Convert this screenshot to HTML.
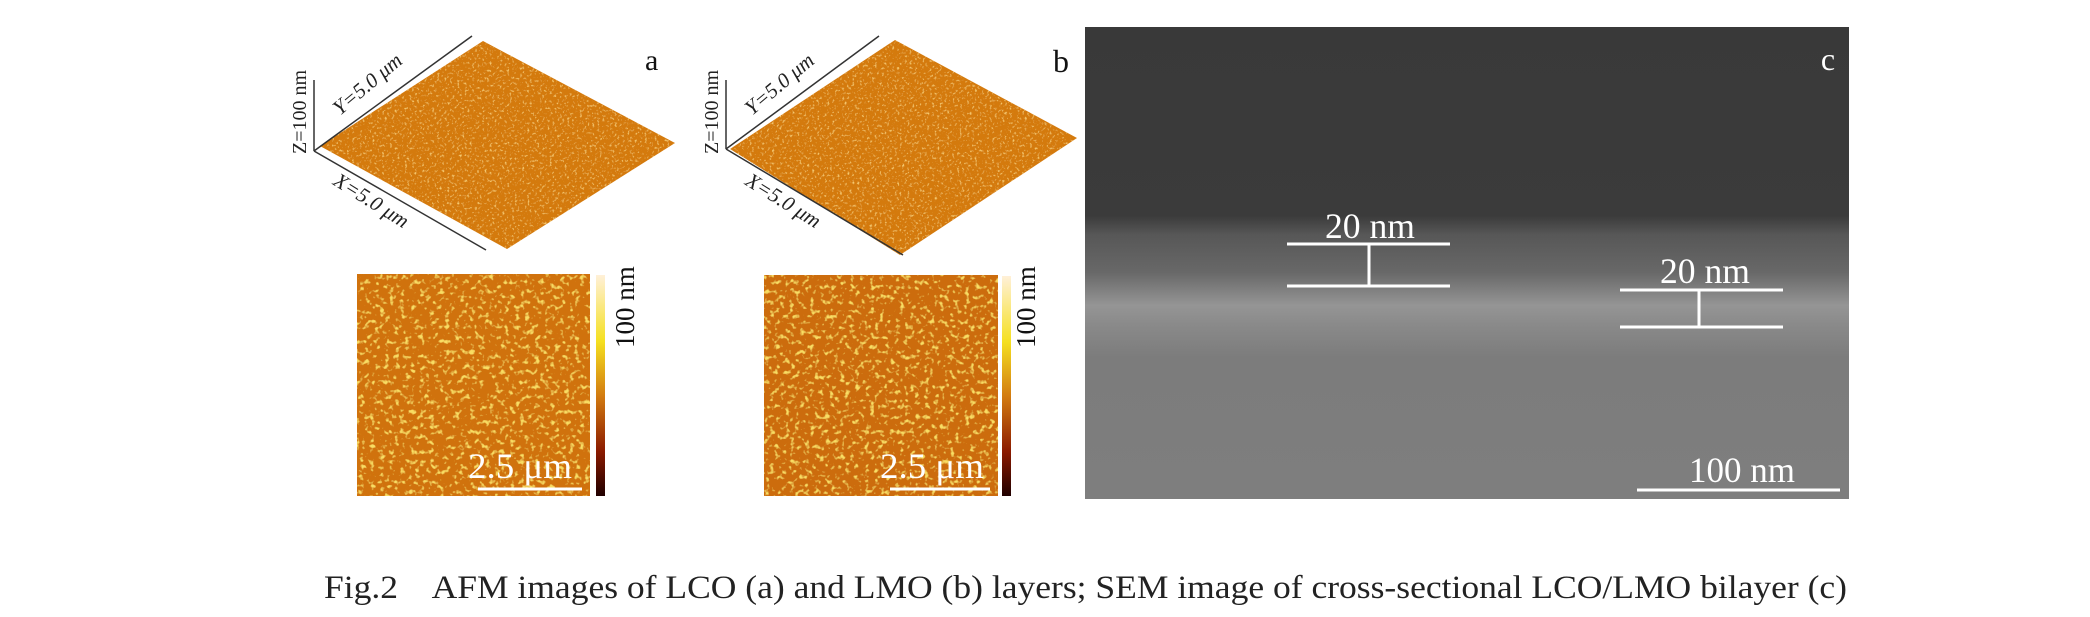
<!DOCTYPE html>
<html><head><meta charset="utf-8"><style>
html,body{margin:0;padding:0;background:#fff;width:2090px;height:617px;overflow:hidden}
svg{display:block}
text{font-family:"Liberation Serif",serif}
</style></head><body>
<svg width="2090" height="617" viewBox="0 0 2090 617" xmlns="http://www.w3.org/2000/svg">
<defs>
<filter id="spots" x="0" y="0" width="100%" height="100%">
<feTurbulence type="fractalNoise" baseFrequency="0.2" numOctaves="2" seed="5" result="n"/>
<feColorMatrix in="n" type="matrix" values="0 0 0 0 0.95  0 0 0 0 0.72  0 0 0 0 0.12  5 0 0 0 -2.8" result="c"/>
<feComposite in="c" in2="SourceGraphic" operator="in" result="cc"/>
<feMerge><feMergeNode in="SourceGraphic"/><feMergeNode in="cc"/></feMerge>
</filter>
<filter id="spots3" x="0" y="0" width="100%" height="100%">
<feTurbulence type="fractalNoise" baseFrequency="0.4" numOctaves="2" seed="9" result="n"/>
<feColorMatrix in="n" type="matrix" values="0 0 0 0 0.93  0 0 0 0 0.6  0 0 0 0 0.15  4 0 0 0 -2.3" result="c"/>
<feComposite in="c" in2="SourceGraphic" operator="in" result="cc"/>
<feMerge><feMergeNode in="SourceGraphic"/><feMergeNode in="cc"/></feMerge>
</filter>
<linearGradient id="semg" x1="0" y1="0" x2="0" y2="1">
<stop offset="0" stop-color="#393939"/>
<stop offset="0.40" stop-color="#3b3b3b"/>
<stop offset="0.44" stop-color="#575757"/>
<stop offset="0.52" stop-color="#686868"/>
<stop offset="0.59" stop-color="#959595"/>
<stop offset="0.63" stop-color="#8a8a8a"/>
<stop offset="0.70" stop-color="#7c7c7c"/>
<stop offset="1" stop-color="#7e7e7e"/>
</linearGradient>
<linearGradient id="cbar" x1="0" y1="0" x2="0" y2="1">
<stop offset="0" stop-color="#fff0d8"/>
<stop offset="0.3" stop-color="#f5e020"/>
<stop offset="0.55" stop-color="#d27a10"/>
<stop offset="0.8" stop-color="#8a1a00"/>
<stop offset="1" stop-color="#200000"/>
</linearGradient>
</defs>

<!-- a 3D -->
<polygon points="320,146 483,41 675,143 507,249" fill="#d47a0c" filter="url(#spots3)"/>
<line x1="314" y1="80" x2="314" y2="151" stroke="#333" stroke-width="1.5"/>
<line x1="314" y1="151" x2="472" y2="36" stroke="#333" stroke-width="1.5"/>
<line x1="314" y1="151" x2="486" y2="250" stroke="#333" stroke-width="1.5"/>
<text x="0" y="0" font-size="20" fill="#222" transform="translate(306,154) rotate(-90)">Z=100 nm</text>
<text x="0" y="0" font-size="21" font-style="italic" fill="#222" transform="translate(340,116) rotate(-40)">Y=5.0 μm</text>
<text x="0" y="0" font-size="21" font-style="italic" fill="#222" transform="translate(332,184) rotate(32)">X=5.0 μm</text>
<text x="645" y="70" font-size="30" fill="#111">a</text>

<!-- b 3D -->
<polygon points="730,149 895,40 1077,138 900,255" fill="#d47a0c" filter="url(#spots3)"/>
<line x1="726" y1="80" x2="726" y2="149" stroke="#333" stroke-width="1.5"/>
<line x1="726" y1="149" x2="879" y2="36" stroke="#333" stroke-width="1.5"/>
<line x1="726" y1="149" x2="903" y2="255" stroke="#333" stroke-width="1.5"/>
<text x="0" y="0" font-size="20" fill="#222" transform="translate(718,154) rotate(-90)">Z=100 nm</text>
<text x="0" y="0" font-size="21" font-style="italic" fill="#222" transform="translate(752,116) rotate(-40)">Y=5.0 μm</text>
<text x="0" y="0" font-size="21" font-style="italic" fill="#222" transform="translate(744,184) rotate(32)">X=5.0 μm</text>
<text x="1053" y="72" font-size="32" fill="#111">b</text>

<!-- a 2D -->
<rect x="357" y="274" width="233" height="222" fill="#d0720c" filter="url(#spots)"/>
<rect x="596" y="275" width="9" height="221" fill="url(#cbar)"/>
<text x="0" y="0" font-size="27" fill="#111" transform="translate(634,348) rotate(-90)">100 nm</text>
<text x="468" y="478" font-size="36" fill="#fff" textLength="104" lengthAdjust="spacingAndGlyphs">2.5 μm</text>
<line x1="478" y1="489" x2="582" y2="489" stroke="#fff" stroke-width="3"/>

<!-- b 2D -->
<rect x="764" y="275" width="234" height="221" fill="#cc6c0a" filter="url(#spots)"/>
<rect x="1002" y="276" width="9" height="220" fill="url(#cbar)"/>
<text x="0" y="0" font-size="27" fill="#111" transform="translate(1035,348) rotate(-90)">100 nm</text>
<text x="880" y="478" font-size="36" fill="#fff" textLength="104" lengthAdjust="spacingAndGlyphs">2.5 μm</text>
<line x1="890" y1="489" x2="990" y2="489" stroke="#fff" stroke-width="3"/>

<!-- SEM -->
<rect x="1085" y="27" width="764" height="472" fill="url(#semg)"/>
<text x="1828" y="70" font-size="32" fill="#fff" text-anchor="middle">c</text>
<text x="1370" y="238" font-size="36" fill="#fff" text-anchor="middle" textLength="90" lengthAdjust="spacingAndGlyphs">20 nm</text>
<g stroke="#fff" stroke-width="3">
<line x1="1287" y1="244" x2="1450" y2="244"/><line x1="1287" y1="286" x2="1450" y2="286"/><line x1="1369" y1="244" x2="1369" y2="286"/>
<line x1="1620" y1="290" x2="1783" y2="290"/><line x1="1620" y1="327" x2="1783" y2="327"/><line x1="1699" y1="290" x2="1699" y2="327"/>
<line x1="1637" y1="490" x2="1840" y2="490"/>
</g>
<text x="1705" y="283" font-size="36" fill="#fff" text-anchor="middle" textLength="90" lengthAdjust="spacingAndGlyphs">20 nm</text>
<text x="1742" y="482" font-size="36" fill="#fff" text-anchor="middle" textLength="106" lengthAdjust="spacingAndGlyphs">100 nm</text>

<!-- caption -->
<text x="324" y="598" font-size="33" fill="#222" textLength="1523" lengthAdjust="spacingAndGlyphs" xml:space="preserve">Fig.2    AFM images of LCO (a) and LMO (b) layers; SEM image of cross-sectional LCO/LMO bilayer (c)</text>
</svg>
</body></html>
